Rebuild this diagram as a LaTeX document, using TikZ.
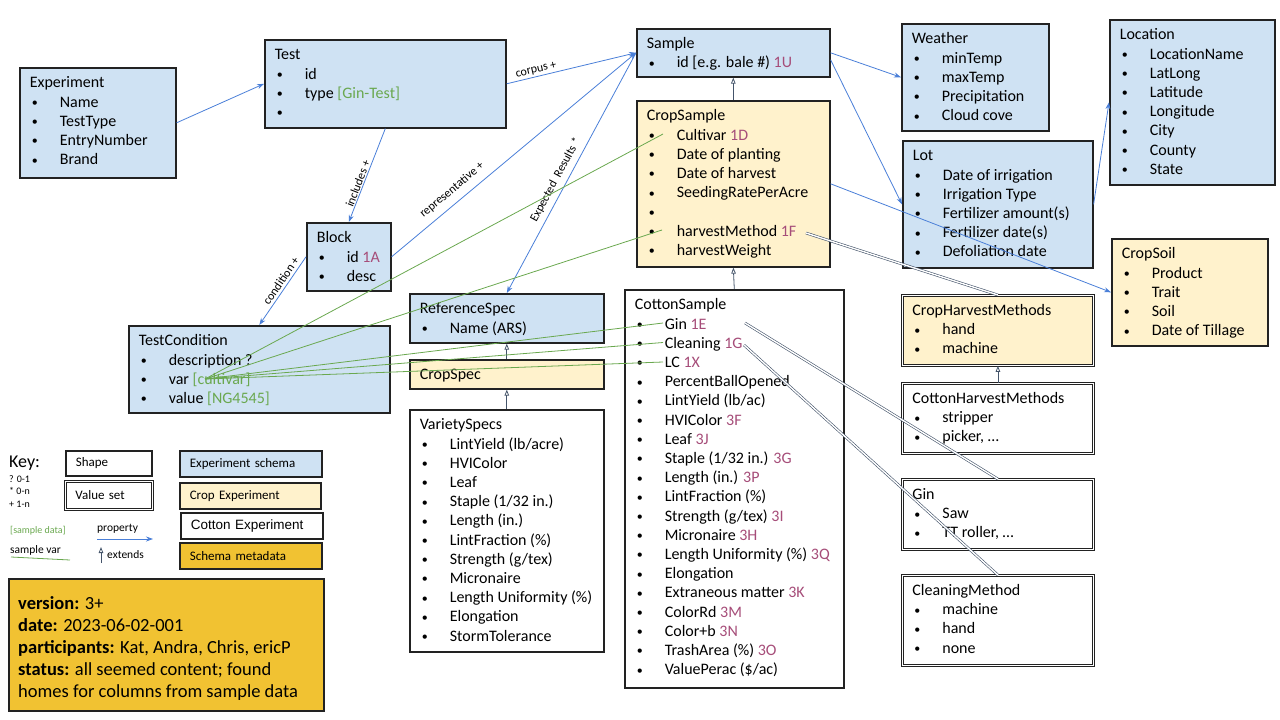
\documentclass[tikz,border=0pt]{standalone}
\usepackage{fontspec}
\setmainfont{Carlito}
\newfontfamily\arialfont{Liberation Sans}
\usetikzlibrary{arrows.meta}

\definecolor{schemablue}{HTML}{CFE2F3}
\definecolor{cropyellow}{HTML}{FFF2CC}
\definecolor{metagold}{HTML}{F1C232}
\definecolor{codepurple}{HTML}{A64D79}
\definecolor{datagreen}{HTML}{6AA84F}
\definecolor{propblue}{HTML}{4A7FD8}
\definecolor{extslate}{HTML}{44546A}
\definecolor{boxline}{HTML}{222222}

\newcommand{\cd}[1]{\textcolor{codepurple}{#1}}
\newcommand{\sd}[1]{\textcolor{datagreen}{#1}}
\newcommand{\itm}[1]{\par\hspace*{5pt}\makebox[0pt]{\raisebox{0.6pt}{\fontsize{12}{12}\selectfont\textbullet}}\hspace*{25pt}#1}
\newcommand{\classbox}[3]{\parbox[t][#2][t]{#1}{\raggedright\leftskip=10pt\rule{0pt}{20pt}#3}}

\begin{document}
\begin{tikzpicture}[x=1pt,y=-1pt,
  schema/.style={draw=boxline,line width=1.6pt,inner sep=0pt,anchor=north west,font=\fontsize{16}{19.2}\selectfont},
  valueset/.style={schema,line width=0.8pt,double=white,double distance=1.6pt},
  keybox/.style={draw=boxline,line width=1.6pt,anchor=north west,inner xsep=10pt,inner ysep=0pt,align=left,font=\fontsize{13}{15}\selectfont},
  prop/.style={draw=propblue,line width=0.8pt,-{Stealth[length=7pt,width=5pt]}},
  ext/.style={draw=extslate,line width=0.8pt,-{Triangle[open,length=6pt,width=4.5pt]}},
  svar/.style={draw=datagreen,line width=0.8pt},
  vref/.style={draw=extslate,line width=0.6pt,double=white,double distance=1.4pt},
  lbl/.style={font=\fontsize{12}{14}\selectfont,sloped,inner sep=1pt}]
\useasboundingbox (0,0) rectangle (1280,720);

% experiment schema
\node[schema,fill=schemablue] (exp) at (19,67) {\classbox{156pt}{110pt}{Experiment\itm{Name}\itm{TestType}\itm{EntryNumber}\itm{Brand}}};
\node[schema,fill=schemablue] (test) at (264,39) {\classbox{241pt}{88pt}{Test\itm{id}\itm{type \sd{[Gin-Test]}}\itm{}}};
\node[schema,fill=schemablue] (block) at (306,222) {\classbox{84pt}{68pt}{Block\itm{id \cd{1A}}\itm{desc}}};
\node[schema,fill=schemablue] (tcond) at (128,325) {\classbox{261pt}{87pt}{TestCondition\itm{description ?}\itm{var \sd{[cultivar]}}\itm{value \sd{[NG4545]}}}};
\node[schema,fill=schemablue] (refspec) at (409,293) {\classbox{194pt}{49pt}{ReferenceSpec\itm{Name (ARS)}}};
\node[schema,fill=cropyellow] (cropspec) at (409,359) {\classbox{194pt}{29pt}{CropSpec}};
\node[schema,fill=white] (variety) at (409,409) {\classbox{194pt}{242pt}{VarietySpecs\itm{LintYield (lb/acre)}\itm{HVIColor}\itm{Leaf}\itm{Staple (1/32 in.)}\itm{Length (in.)}\itm{LintFraction (\%)}\itm{Strength (g/tex)}\itm{Micronaire}\itm{Length Uniformity (\%)}\itm{Elongation}\itm{StormTolerance}}};

% samples
\node[schema,fill=schemablue] (sample) at (636,28) {\classbox{193pt}{48pt}{Sample\itm{id [e.g. bale \#) \cd{1U}}}};
\node[schema,fill=cropyellow] (cropsample) at (636,100) {\classbox{193pt}{166pt}{CropSample\itm{Cultivar \cd{1D}}\itm{Date of planting}\itm{Date of harvest}\itm{SeedingRatePerAcre}\itm{}\itm{harvestMethod \cd{1F}}\itm{harvestWeight}}};
\node[schema,fill=white] (cotton) at (624,289) {\classbox{219pt}{398pt}{CottonSample\itm{Gin \cd{1E}}\itm{Cleaning \cd{1G}}\itm{LC \cd{1X}}\itm{PercentBallOpened}\itm{LintYield (lb/ac)}\itm{HVIColor \cd{3F}}\itm{Leaf \cd{3J}}\itm{Staple (1/32 in.) \cd{3G}}\itm{Length (in.) \cd{3P}}\itm{LintFraction (\%)}\itm{Strength (g/tex) \cd{3I}}\itm{Micronaire \cd{3H}}\itm{Length Uniformity (\%) \cd{3Q}}\itm{Elongation}\itm{Extraneous matter \cd{3K}}\itm{ColorRd \cd{3M}}\itm{Color+b \cd{3N}}\itm{TrashArea (\%) \cd{3O}}\itm{ValuePerac (\$/ac)}}};

% right column
\node[schema,fill=schemablue] (weather) at (901,23) {\classbox{147pt}{107pt}{Weather\itm{minTemp}\itm{maxTemp}\itm{Precipitation}\itm{Cloud cove}}};
\node[schema,fill=schemablue] (lot) at (902,140) {\classbox{190pt}{127pt}{Lot\itm{Date of irrigation}\itm{Irrigation Type}\itm{Fertilizer amount(s)}\itm{Fertilizer date(s)}\itm{Defoliation date}}};
\node[schema,fill=schemablue] (location) at (1109,19) {\classbox{165pt}{165pt}{Location\itm{LocationName}\itm{LatLong}\itm{Latitude}\itm{Longitude}\itm{City}\itm{County}\itm{State}}};
\node[schema,fill=cropyellow] (cropsoil) at (1111,238) {\classbox{156pt}{107pt}{CropSoil\itm{Product}\itm{Trait}\itm{Soil}\itm{Date of Tillage}}};
\node[valueset,fill=cropyellow] (crophm) at (902,295) {\classbox{191pt}{70pt}{CropHarvestMethods\itm{hand}\itm{machine}}};
\node[valueset,fill=white] (cottonhm) at (902,383) {\classbox{191pt}{70pt}{CottonHarvestMethods\itm{stripper}\itm{picker, …}}};
\node[valueset,fill=white] (gin) at (902,479) {\classbox{191pt}{70pt}{Gin\itm{Saw}\itm{TT roller, …}}};
\node[valueset,fill=white] (cleaning) at (902,575) {\classbox{191pt}{90pt}{CleaningMethod\itm{machine}\itm{hand}\itm{none}}};

% key
\node[anchor=west,inner sep=0pt,font=\fontsize{18}{20}\selectfont] (keytitle) at (9,463) {Key:};
\node[anchor=west,inner sep=0pt,align=left,font=\fontsize{10}{12.5}\selectfont] (mult) at (9,491.5) {? 0-1\\* 0-n\\+ 1-n};
\node[keybox,fill=white,text width=66pt,minimum height=25pt] (kshape) at (65,450) {Shape};
\node[keybox,fill=white,line width=0.8pt,double=white,double distance=1.6pt,text width=67pt,minimum height=28pt] (kvalue) at (65,481) {Value set};
\node[keybox,fill=schemablue,text width=122pt,minimum height=26pt] (kschema) at (179,450) {Experiment schema};
\node[keybox,fill=cropyellow,text width=121pt,minimum height=26pt] (kcrop) at (179,482) {Crop Experiment};
\node[keybox,fill=white,text width=122pt,minimum height=26pt,font=\arialfont\fontsize{13.5}{15}\selectfont] (kcotton) at (180,512) {Cotton Experiment};
\node[keybox,fill=metagold,text width=122pt,minimum height=26pt] (kmeta) at (179,542) {Schema metadata};
\node[anchor=west,inner sep=0pt,font=\fontsize{10}{12}\selectfont,text=datagreen] (ksample) at (10,531) {[sample data]};
\node[anchor=west,inner sep=0pt,font=\fontsize{11.5}{13}\selectfont] (kprop) at (97,529) {property};
\node[anchor=west,inner sep=0pt,font=\fontsize{11.5}{13}\selectfont] (kvar) at (10,550) {sample var};
\node[anchor=west,inner sep=0pt,font=\fontsize{11.5}{13}\selectfont] (kext) at (107,555) {extends};
\coordinate (pa) at (97,539); \coordinate (pb) at (153,539);
\coordinate (sa) at (11,557); \coordinate (sb) at (70,560);
\coordinate (ea) at (101,563); \coordinate (eb) at (101,547);
\draw[prop] (pa) -- (pb);
\draw[svar] (sa) -- (sb);
\draw[ext] (ea) -- (eb);

% metadata
\node[schema,fill=metagold,line width=2.4pt] (meta) at (8,578) {\parbox[t][132pt][t]{315pt}{\fontsize{18.5}{22}\selectfont\leftskip=9pt\rule{0pt}{30pt}\textbf{version:} 3+\par\textbf{date:} 2023-06-02-001\par\textbf{participants:} Kat, Andra, Chris, ericP\par\textbf{status:} all seemed content; found\par homes for columns from sample data}};

% properties
\draw[prop] (exp.east) -- (test.west);
\draw[prop] (test.east) -- (sample.west) node[lbl,pos=0.24,above=0.5pt] {corpus +};
\draw[prop] (block.east) -- (sample.west) node[lbl,pos=0.28,above=6pt] {representative +};
\draw[prop] (sample.west) -- (refspec.north) node[lbl,pos=0.55,above=4pt] {Expected\ \ Results *};
\draw[prop] (test.south) -- (block.north) node[lbl,pos=0.61,above=0pt] {includes +};
\draw[prop] (block.west) -- (tcond.north) node[lbl,pos=0.41,above=1.5pt] {condition +};
\draw[prop] (sample.east) -- (weather.west);
\draw[prop] ([yshift=-7pt]sample.east) -- (lot.west);
\draw[prop] (cropsample.east) -- (cropsoil.west);
\draw[prop] (lot.east) -- (location.west);

% extends
\draw[ext] (cropsample.north) -- (sample.south);
\draw[ext] (cotton.north) -- (cropsample.south);
\draw[ext] (cottonhm.north) -- (crophm.south);
\draw[ext] (cropspec.north) -- (refspec.south);
\draw[ext] (variety.north) -- (cropspec.south);

% sample vars
\coordinate (var) at (205,379);
\coordinate (cult) at (663,134);
\coordinate (hmeth) at (662,230);
\coordinate (ginv) at (663,323);
\coordinate (cleanv) at (663,342.5);
\coordinate (lcv) at (663,362);
\draw[svar] (var) -- (cult);
\draw[svar] (var) -- (hmeth);
\draw[svar] (var) -- (ginv);
\draw[svar] (var) -- (cleanv);
\draw[svar] (var) -- (lcv);

% value sets
\coordinate (hmref) at (806,233);
\coordinate (ginref) at (745,323);
\coordinate (cleanref) at (744,345);
\draw[vref] (hmref) -- (crophm.north);
\draw[vref] (ginref) -- (gin.north);
\draw[vref] (cleanref) -- (cleaning.north);
\end{tikzpicture}
\end{document}
